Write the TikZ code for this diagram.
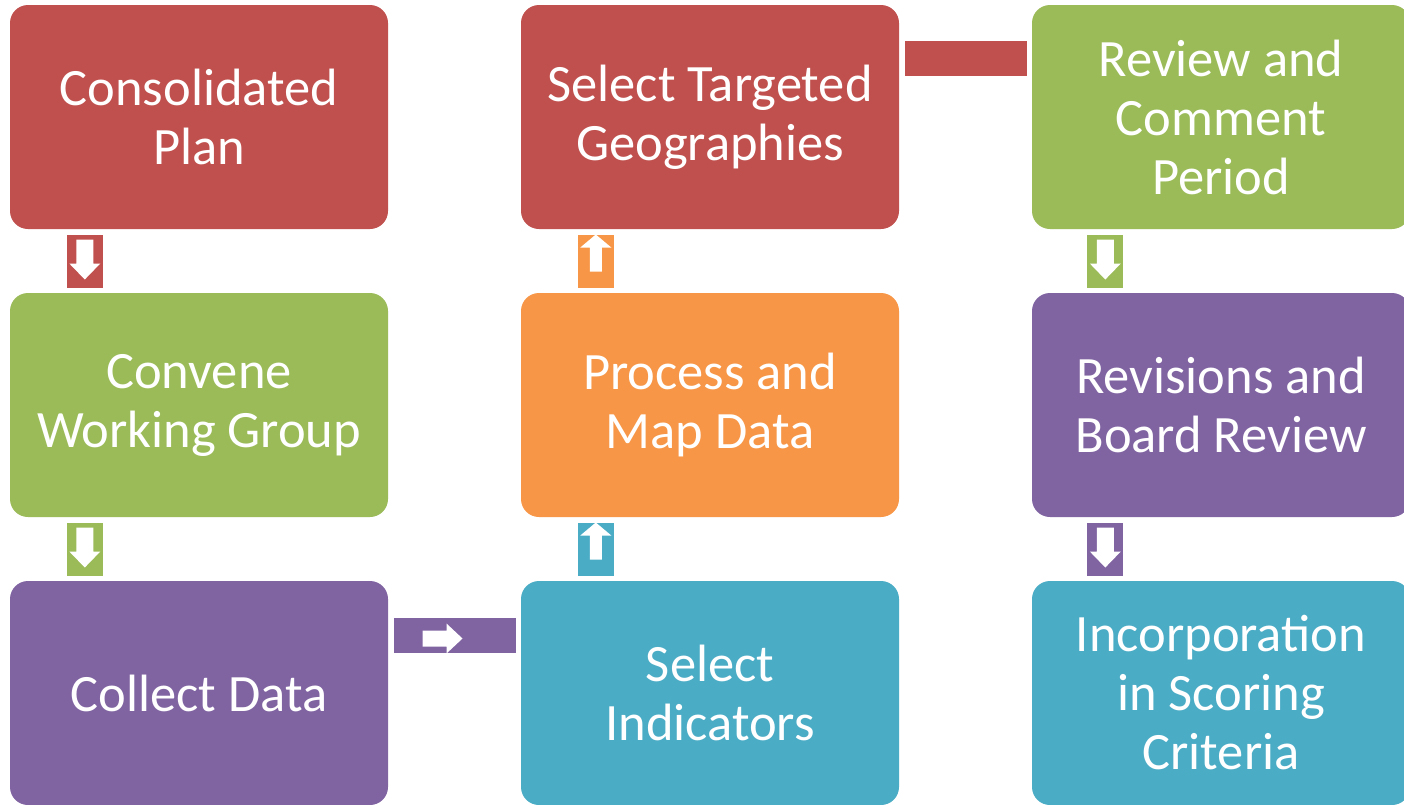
\documentclass[tikz,border=0pt]{standalone}
\usepackage{fontspec}
\setmainfont{Carlito}
\usetikzlibrary{calc}
\definecolor{cred}{HTML}{C0504D}
\definecolor{cgreen}{HTML}{9BBB59}
\definecolor{cpurple}{HTML}{8064A2}
\definecolor{corange}{HTML}{F79646}
\definecolor{cteal}{HTML}{4BACC6}
\tikzset{
  stepbox/.style={rectangle, rounded corners=18pt, minimum width=378pt, minimum height=224pt,
    inner sep=0pt, align=center, text=white, font=\fontsize{52.5}{59}\selectfont},
  vbar/.style={rectangle, minimum width=36pt, minimum height=53pt, inner sep=0pt},
  hbar/.style={rectangle, minimum width=122pt, minimum height=35pt, inner sep=0pt},
  downarr/.pic={\fill[white] (-8.5,-21.5) -- (8.5,-21.5) -- (8.5,2.5) -- (15.5,2.5) -- (0,18.5) -- (-15.5,2.5) -- (-8.5,2.5) -- cycle;},
  uparr/.pic={\fill[white] (-6,10.5) -- (6,10.5) -- (6,-13.5) -- (15.5,-13.5) -- (0,-26.5) -- (-15.5,-13.5) -- (-6,-13.5) -- cycle;},
  rightarr/.pic={\fill[white] (-32,-5) -- (-8,-5) -- (-8,-12) -- (8,3) -- (-8,18) -- (-8,11) -- (-32,11) -- cycle;}
}
\begin{document}
\begin{tikzpicture}[x=1pt,y=-1pt]
\useasboundingbox (0,0) rectangle (1404,804);
\clip (0,0) rectangle (1404,804);
% boxes
\node[stepbox, fill=cred]    (a) at (199,117) {Consolidated\\Plan};
\node[stepbox, fill=cgreen]  (b) at (199,405) {Convene\\Working Group};
\node[stepbox, fill=cpurple] (c) at (199,693) {Collect Data};
\node[stepbox, fill=cteal]   (d) at (710,693) {Select\\Indicators};
\node[stepbox, fill=corange] (e) at (710,405) {Process and\\Map Data};
\node[stepbox, fill=cred]    (f) at (710,117) {Select Targeted\\Geographies};
\node[stepbox, fill=cgreen]  (g) at (1221,117) {Review and\\Comment\\Period};
\node[stepbox, fill=cpurple] (h) at (1221,405) {Revisions and\\Board Review};
\node[stepbox, fill=cteal]   (i) at (1221,693) {Incorporation\\in Scoring\\Criteria};
% connectors
\node[vbar, fill=cred]    (ab) at ($(a.south west)!0.5!(b.north west)+(75,0)$) {};
\pic at (ab.center) {downarr};
\node[vbar, fill=cgreen]  (bc) at ($(b.south west)!0.5!(c.north west)+(75,0)$) {};
\pic at (bc.center) {downarr};
\node[hbar, fill=cpurple] (cd) at ($(c.east)!0.5!(d.west)+(0,-57.5)$) {};
\pic at (cd.center) {rightarr};
\node[vbar, fill=cteal]   (de) at ($(d.north west)!0.5!(e.south west)+(75,0)$) {};
\pic at (de.center) {uparr};
\node[vbar, fill=corange] (ef) at ($(e.north west)!0.5!(f.south west)+(75,0)$) {};
\pic at (ef.center) {uparr};
\node[hbar, fill=cred]    (fg) at ($(f.east)!0.5!(g.west)+(0,-58.5)$) {};
\node[vbar, fill=cgreen]  (gh) at ($(g.south west)!0.5!(h.north west)+(73.5,0)$) {};
\pic at (gh.center) {downarr};
\node[vbar, fill=cpurple] (hi) at ($(h.south west)!0.5!(i.north west)+(73.5,0)$) {};
\pic at (hi.center) {downarr};
\end{tikzpicture}
\end{document}
